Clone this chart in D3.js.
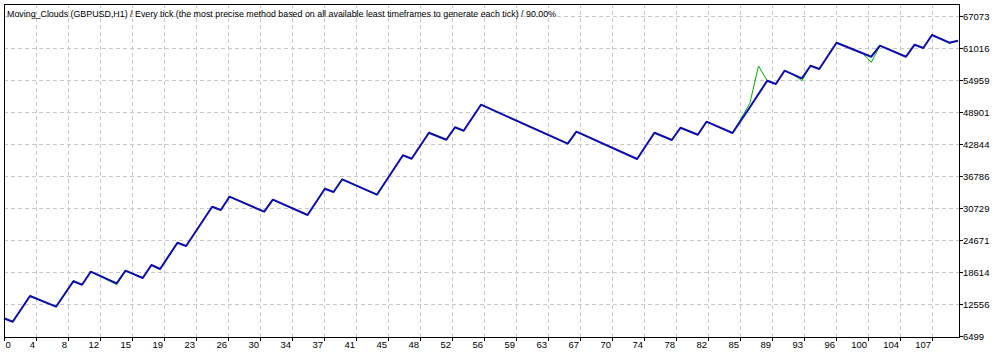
<!DOCTYPE html>
<html>
<head>
<meta charset="utf-8">
<script src="https://cdn.jsdelivr.net/npm/d3@7"></script>
<style>
  body { margin: 0; background: #fff; }
  svg { display: block; }
</style>
</head>
<body>
<div id="chart"></div>
<script>
const title = "Moving_Clouds (GBPUSD,H1) / Every tick (the most precise method based on all available least timeframes to generate each tick) / 90.00%";

// axis labels as printed by the tester
const xTickLabels = [0, 4, 8, 12, 15, 19, 23, 26, 30, 34, 37, 41, 45, 48, 52, 56, 59, 63, 67, 70, 74, 78, 82, 85, 89, 93, 96, 100, 104, 107];
const yTickValues = [6499, 12556, 18614, 24671, 30729, 36786, 42844, 48901, 54959, 61016, 67073];

// balance curve: trade number / balance at the turning points
const balanceTrade = [0, 1, 3, 6, 8, 9, 10, 13, 14, 16, 17, 18, 20, 21, 24, 25, 26, 30, 31, 35, 37, 38, 39, 43, 46, 47, 49, 51, 52, 53, 55, 65, 66, 73, 75, 77, 78, 80, 81, 84, 86, 88, 89, 90, 92, 93, 94, 96, 100, 101, 104, 105, 106, 107, 109, 110];
const balanceValue = [9944, 9300, 14165, 12140, 16948, 16304, 18765, 16569, 18954, 17572, 20033, 19276, 24254, 23630, 31069, 30444, 32962, 30122, 32394, 29498, 34476, 33851, 36255, 33340, 40798, 40155, 45076, 43751, 46099, 45455, 50376, 42994, 45266, 40098, 45076, 43695, 46023, 44698, 47159, 45019, 49884, 54919, 54295, 56812, 55374, 57759, 57134, 62113, 59462, 61545, 59462, 61734, 61109, 63570, 62113, 62491];

// equity curve: same points, plus the floating excursions
const equityTrade = [0, 1, 3, 6, 8, 9, 10, 13, 14, 16, 17, 18, 20, 21, 24, 25, 26, 30, 31, 35, 37, 38, 39, 43, 46, 47, 49, 51, 52, 53, 55, 65, 66, 73, 75, 77, 78, 80, 81, 84, 86, 87, 88, 89, 90, 91, 92, 93, 94, 96, 99, 100, 101, 104, 105, 106, 107, 108, 109, 110];
const equityValue = [9944, 9300, 14165, 12140, 17100, 16304, 18765, 16300, 18954, 17572, 20033, 19276, 24254, 23630, 31069, 30444, 32962, 30122, 32394, 29498, 34476, 33851, 36255, 33340, 40798, 40155, 45076, 43751, 46099, 45455, 50376, 42994, 45266, 40098, 45076, 43695, 46023, 44698, 47159, 45019, 50641, 57702, 54919, 54295, 56812, 56093, 54919, 57759, 57134, 62113, 60126, 58402, 61545, 59462, 61734, 61109, 63570, 62832, 61999, 62491];

const width = 1004;
const height = 354;
const frame = { left: 4, top: 4, right: 959, bottom: 337 };

const svg = d3.select("#chart")
  .append("svg")
  .attr("width", width)
  .attr("height", height)
  .attr("font-family", "'Liberation Sans', Arial, sans-serif");

svg.append("rect").attr("width", width).attr("height", height).attr("fill", "#fff");

let x = d3.scaleLinear().domain([0, 110]).range([4, 958]);
let y = d3.scaleLinear().domain([yTickValues[0], yTickValues[yTickValues.length - 1]]).range([336.5, 16.5]);
// tick labels sit every 32px along the bottom
let xTick = d3.scaleLinear().domain([0, xTickLabels.length - 1]).range([4.5, 932.5]);

// grid
svg.append("g")
  .selectAll("line")
  .data(yTickValues.slice(1))
  .join("line")
  .attr("x1", frame.left)
  .attr("x2", frame.right)
  .attr("y1", (d) => y(d))
  .attr("y2", (d) => y(d))
  .attr("stroke", "#c8c8c8")
  .attr("stroke-dasharray", "4,3");

svg.append("g")
  .selectAll("line")
  .data(xTickLabels.slice(1).map((d, i) => i + 1))
  .join("line")
  .attr("x1", (i) => xTick(i))
  .attr("x2", (i) => xTick(i))
  .attr("y1", frame.top)
  .attr("y2", frame.bottom)
  .attr("stroke", "#c8c8c8")
  .attr("stroke-dasharray", "4,3");

// title
const titleText = svg.append("text")
  .attr("x", 7)
  .attr("y", 17)
  .attr("font-size", 10)
  .attr("fill", "#000")
  .text(title);
let len = titleText.node().getComputedTextLength();
titleText.attr("font-size", (10 * 550) / len);

// curves
const line = d3.line().x((d) => x(d[0])).y((d) => y(d[1]));

svg.append("path")
  .datum(equityTrade.map((t, i) => [t, equityValue[i]]))
  .attr("fill", "none")
  .attr("stroke", "#00b000")
  .attr("stroke-width", 1)
  .attr("d", line);

svg.append("path")
  .datum(balanceTrade.map((t, i) => [t, balanceValue[i]]))
  .attr("fill", "none")
  .attr("stroke", "#0c0cb0")
  .attr("stroke-width", 2)
  .attr("stroke-linejoin", "round")
  .attr("d", line);

// frame
svg.append("rect")
  .attr("x", frame.left + 0.5)
  .attr("y", frame.top + 0.5)
  .attr("width", frame.right - frame.left)
  .attr("height", frame.bottom - frame.top)
  .attr("fill", "none")
  .attr("stroke", "#000");

// y axis on the right
const yAxis = svg.append("g");
yAxis.selectAll("line")
  .data(yTickValues)
  .join("line")
  .attr("x1", frame.right + 1)
  .attr("x2", frame.right + 4)
  .attr("y1", (d) => y(d))
  .attr("y2", (d) => y(d))
  .attr("stroke", "#000");
yAxis.selectAll("text")
  .data(yTickValues)
  .join("text")
  .attr("x", frame.right + 4)
  .attr("y", (d) => y(d))
  .attr("dy", "0.35em")
  .attr("font-size", 9.5)
  .text((d) => d);

// x axis at the bottom
const xAxis = svg.append("g");
xAxis.selectAll("line")
  .data(xTickLabels.map((d, i) => i))
  .join("line")
  .attr("x1", (i) => xTick(i))
  .attr("x2", (i) => xTick(i))
  .attr("y1", frame.bottom + 1)
  .attr("y2", frame.bottom + 4)
  .attr("stroke", "#000");
xAxis.selectAll("text")
  .data(xTickLabels)
  .join("text")
  .attr("x", (d, i) => (i === 0 ? xTick(i) + 1 : xTick(i) - 1.5))
  .attr("y", 348)
  .attr("text-anchor", (d, i) => (i === 0 ? "start" : "end"))
  .attr("font-size", 9.5)
  .text((d) => d);
</script>
</body>
</html>
